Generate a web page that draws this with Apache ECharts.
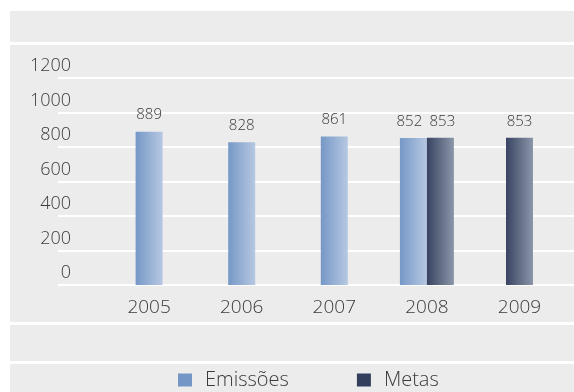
<!DOCTYPE html>
<html>
<head>
<meta charset="utf-8">
<script src="https://cdn.jsdelivr.net/npm/echarts@6/dist/echarts.min.js"></script>
<style>html,body{margin:0;padding:0;background:#fff}#c{width:574px;height:392px}</style>
</head>
<body>
<div id="c"></div>
<script>
var years = ['2005', '2006', '2007', '2008', '2009'];
var emissoes = [889, 828, 861, 852, null];
var metas = [null, null, null, 853, 853];
var yTicks = [0, 200, 400, 600, 800, 1000, 1200];

var FONT = '"Open Sans", "Liberation Sans", sans-serif';
var TXT = '#3a3a3a';

function grad(a, b) {
  return new echarts.graphic.LinearGradient(0, 0, 1, 0, [
    { offset: 0, color: a }, { offset: 1, color: b }
  ]);
}
var emisColor = grad('#7698c6', '#b6c8e2');
var metaColor = grad('#384462', '#8c96a9');

// split into single bars (centered) and paired bars (side by side)
var isPair = years.map(function (_, i) { return emissoes[i] != null && metas[i] != null; });
var emisSingle = emissoes.map(function (v, i) { return isPair[i] ? null : v; });
var metaSingle = metas.map(function (v, i) { return isPair[i] ? null : v; });
var emisPair = emissoes.map(function (v, i) { return isPair[i] ? v : null; });
var metaPair = metas.map(function (v, i) { return isPair[i] ? v : null; });

function labelCfg(dx) {
  return { show: true, position: 'top', distance: 9, offset: [dx || 0, 0], fontSize: 15, color: TXT, fontFamily: FONT, fontWeight: 300 };
}

var chart = echarts.init(document.getElementById('c'), null, { renderer: 'canvas' });
chart.setOption({
  backgroundColor: '#ececec',
  animation: false,
  textStyle: { fontFamily: FONT },
  graphic: [
    { type: 'rect', shape: { x: 0, y: 0, width: 574, height: 11 }, style: { fill: '#fff' }, silent: true },
    { type: 'rect', shape: { x: 0, y: 0, width: 10, height: 392 }, style: { fill: '#fff' }, silent: true },
    { type: 'rect', shape: { x: 0, y: 42, width: 574, height: 3 }, style: { fill: '#fff' }, silent: true },
    { type: 'rect', shape: { x: 0, y: 322, width: 574, height: 3 }, style: { fill: '#fff' }, silent: true },
    { type: 'rect', shape: { x: 0, y: 361, width: 574, height: 3 }, style: { fill: '#fff' }, silent: true }
  ],
  legend: {
    left: 178, top: 370, icon: 'rect', padding: 0,
    itemWidth: 14, itemHeight: 13, itemGap: 68,
    textStyle: { fontSize: 20, color: TXT, fontFamily: FONT, fontWeight: 300, padding: [0, 0, 0, 8] },
    data: [
      { name: 'Emissões', itemStyle: { color: '#7396c6' } },
      { name: 'Metas', itemStyle: { color: '#323e5c' } }
    ]
  },
  grid: [
    { left: 102.8, right: 8.2, top: 78, bottom: 107 },
    { left: 58, right: 0, top: 78, bottom: 107 }
  ],
  xAxis: [
    { type: 'category', gridIndex: 0, data: years,
      axisLine: { show: false }, axisTick: { show: false },
      axisLabel: { margin: 13, fontSize: 19, color: TXT, fontFamily: FONT, fontWeight: 300 } },
    { type: 'category', gridIndex: 0, data: years, show: false },
    { type: 'category', gridIndex: 1, data: years, show: false }
  ],
  yAxis: [
    { type: 'value', gridIndex: 0, min: 0, max: 1200, interval: 200, show: false, splitLine: { show: false } },
    { type: 'value', gridIndex: 1, min: 0, max: 1200, interval: 200,
      axisLine: { show: false }, axisTick: { show: false },
      splitLine: { show: true, lineStyle: { color: '#ffffff', width: 2 } },
      axisLabel: { margin: -13, fontSize: 18, color: TXT, fontFamily: FONT, fontWeight: 300,
        verticalAlign: 'bottom', padding: [0, 0, 3, 0],
        formatter: function (v) { return yTicks.indexOf(v) >= 0 ? String(v) : ''; } } }
  ],
  series: [
    { name: 'Emissões', type: 'bar', xAxisIndex: 0, yAxisIndex: 0, stack: 'single', barWidth: 27,
      data: emisSingle, itemStyle: { color: emisColor }, label: labelCfg(0) },
    { name: 'Metas', type: 'bar', xAxisIndex: 0, yAxisIndex: 0, stack: 'single', barWidth: 27,
      data: metaSingle, itemStyle: { color: metaColor }, label: labelCfg(0) },
    { name: 'Emissões', type: 'bar', xAxisIndex: 1, yAxisIndex: 0, barWidth: 27, barGap: '0%',
      data: emisPair, itemStyle: { color: emisColor }, label: labelCfg(-4) },
    { name: 'Metas', type: 'bar', xAxisIndex: 1, yAxisIndex: 0, barWidth: 27, barGap: '0%',
      data: metaPair, itemStyle: { color: metaColor }, label: labelCfg(2) }
  ]
});
</script>
</body>
</html>
